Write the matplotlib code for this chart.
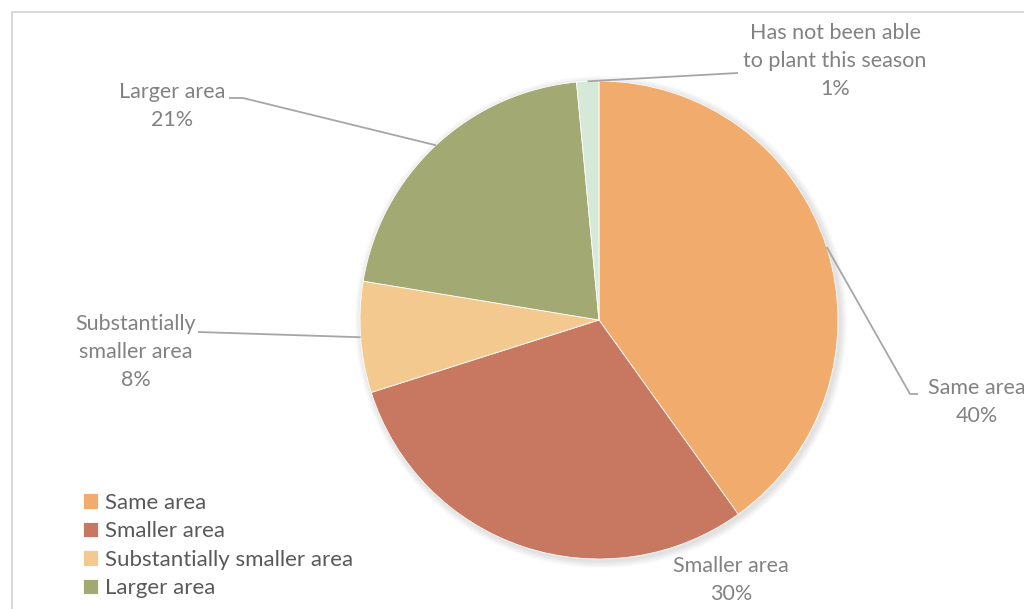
import matplotlib
matplotlib.use("Agg")
import matplotlib.pyplot as plt
import numpy as np

# data
categories = ["Same area", "Smaller area", "Substantially smaller area",
              "Larger area", "Has not been able to plant this season"]
label_text = ["Same area", "Smaller area", "Substantially\nsmaller area",
              "Larger area", "Has not been able\nto plant this season"]
shares = [40.1, 30.0, 7.5, 20.9, 1.5]
colors = ["#F1AB6C", "#C87860", "#F3C98F", "#A3A973", "#D6E8D8"]

W, H = 1024, 609

def flip(y):
    # pixel rows from top -> data y
    return H - y

fig = plt.figure(figsize=(W / 100, H / 100), dpi=100)
ax = fig.add_axes([0, 0, 1, 1])

cx, cy, r = 599, flip(320), 239

# faint shadow under the pie
for k in range(6):
    ax.add_patch(plt.Circle((cx + 2, cy - 2), r + 1 + k * 1.2, color="black",
                            alpha=0.018, lw=0, zorder=1))

wedges, _ = ax.pie(shares, colors=colors, startangle=90, counterclock=False,
                   center=(cx, cy), radius=r, frame=True,
                   wedgeprops=dict(edgecolor="white", linewidth=0.6, zorder=2))
ax.set_xlim(0, W)
ax.set_ylim(0, H)
ax.set_aspect("equal")
ax.axis("off")

# label placement (text centre, leader points from label side), pixel rows from top
label_pos = [(977, 402), (731, 580), (136, 352), (172, 106), (835, 61)]
leaders = [
    [(918, 394), (910, 394)],
    None,
    [(198, 332)],
    [(229, 98), (243, 98)],
    [(738, 73)],
]

label_color = "#828282"
for w, txt, val, pos, lead in zip(wedges, label_text, shares, label_pos, leaders):
    s = "%s\n%d%%" % (txt, round(val)) if val > 2 else "%s\n%d%%" % (txt, int(val))
    ax.text(pos[0], flip(pos[1]), s, ha="center", va="center", fontsize=15.5,
            color=label_color, family="Lato", linespacing=1.5, zorder=5)
    if lead is None:
        continue
    mid = np.deg2rad((w.theta1 + w.theta2) / 2)
    ex, ey = cx + r * np.cos(mid), cy + r * np.sin(mid)
    xs = [p[0] for p in lead] + [ex]
    ys = [flip(p[1]) for p in lead] + [ey]
    ax.plot(xs, ys, color="#A6A6A6", lw=1.3, zorder=4, solid_capstyle="butt")

# chart area border (cropped on the right and bottom)
ax.plot([12, W], [flip(12), flip(12)], color="#D9D9D9", lw=1.5, zorder=0)
ax.plot([12, 12], [flip(12), 0], color="#D9D9D9", lw=1.5, zorder=0)

# only the first four entries fit inside the picture
leg = ax.legend(wedges[:4], categories[:4], loc="upper left",
                bbox_to_anchor=(74 / W, 1 - 484 / H), frameon=False,
                prop={"family": "Lato", "size": 16}, handlelength=0.7,
                handleheight=0.7, handletextpad=0.3, labelspacing=0.38,
                borderaxespad=0)
for t in leg.get_texts():
    t.set_color("#595959")

fig.savefig("out.png", dpi=100)
